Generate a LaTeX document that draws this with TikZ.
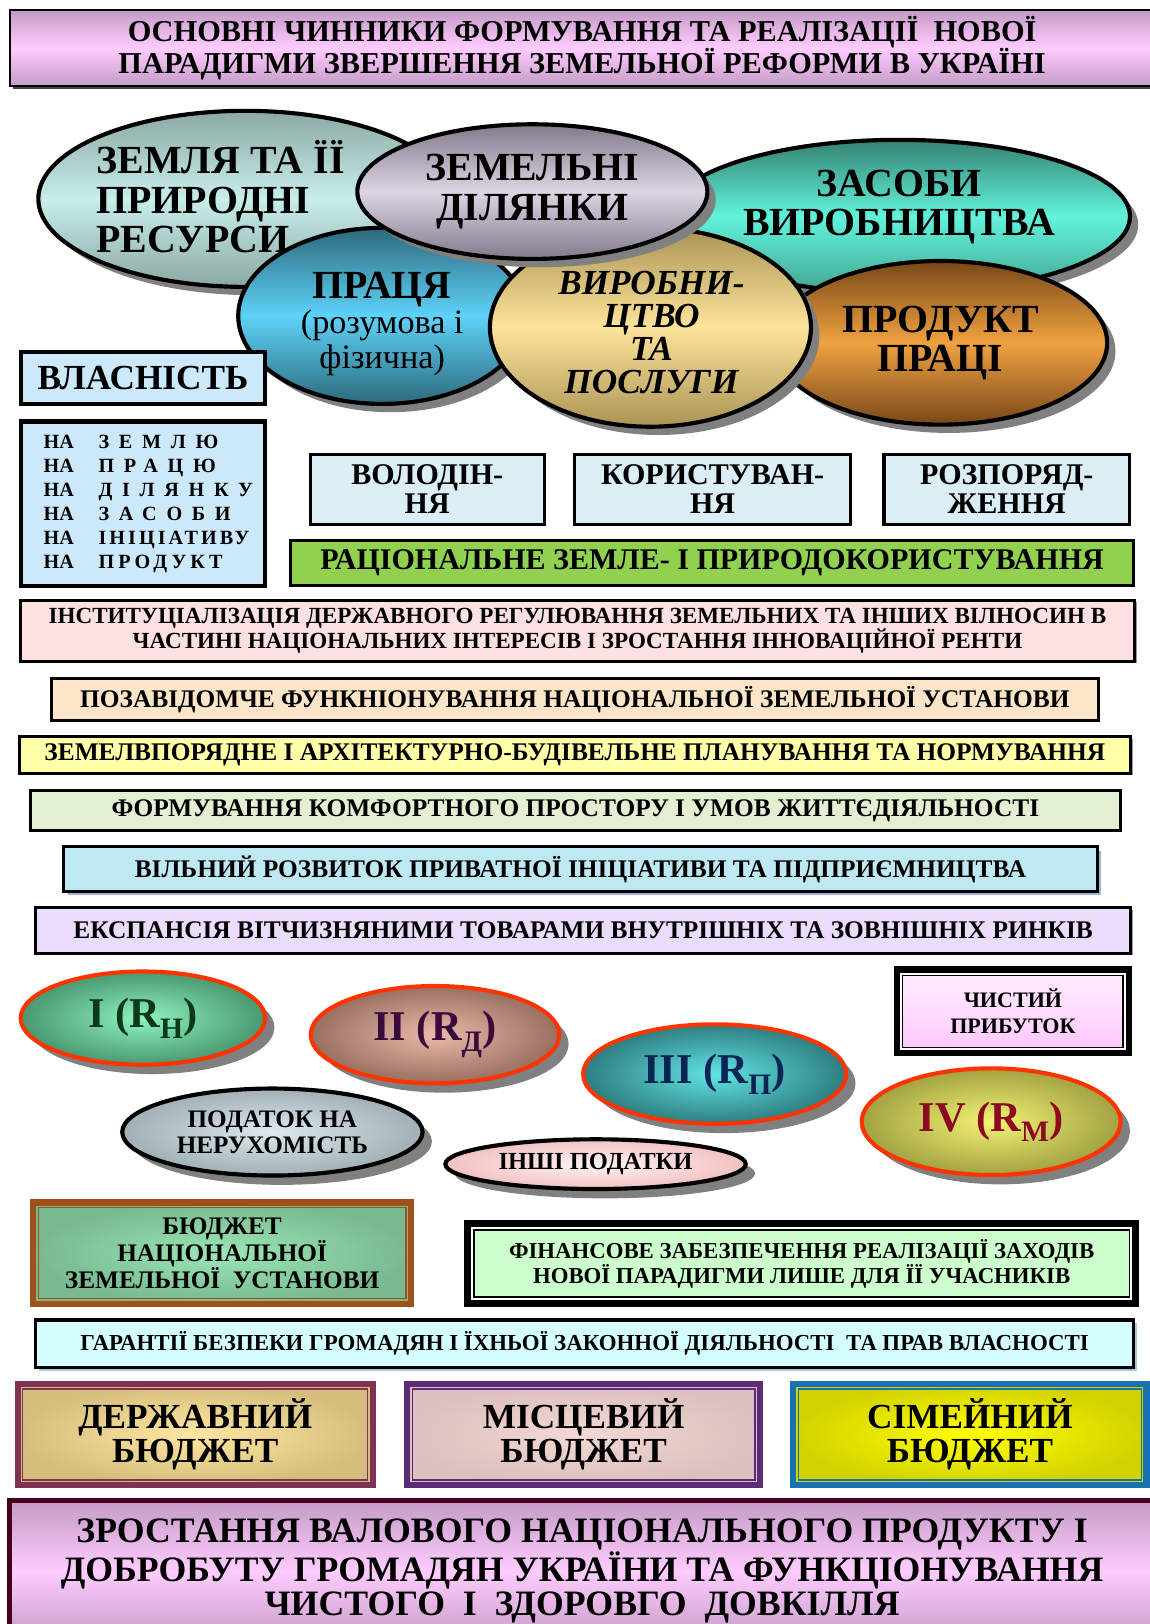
\documentclass[tikz,border=0pt]{standalone}
\usepackage{fontspec}
\setmainfont{Liberation Serif}
\usepackage{tikz}
\usetikzlibrary{shapes.geometric,shadows,positioning}

\definecolor{titlemauve}{HTML}{C49BC6}
\definecolor{titlepink}{HTML}{FFCCFF}
\definecolor{zemdark}{HTML}{8BA8A4}
\definecolor{zemlight}{HTML}{C8EEEA}
\definecolor{dildark}{HTML}{827A8C}
\definecolor{dillight}{HTML}{DDD5E3}
\definecolor{zasdark}{HTML}{358272}
\definecolor{zaslight}{HTML}{62F3DB}
\definecolor{prdark}{HTML}{2D6A7C}
\definecolor{prlight}{HTML}{5ED2F8}
\definecolor{vydark}{HTML}{AA9454}
\definecolor{vylight}{HTML}{FDE49B}
\definecolor{pddark}{HTML}{784818}
\definecolor{pdlight}{HTML}{F0A240}
\definecolor{vlasblue}{HTML}{CCE9FB}
\definecolor{pravblue}{HTML}{DBEEF4}
\definecolor{ratsgreen}{HTML}{92D050}
\definecolor{instpink}{HTML}{FDE0E0}
\definecolor{pozpeach}{HTML}{FBE5C9}
\definecolor{zemyellow}{HTML}{FFFFA8}
\definecolor{formgreen}{HTML}{E3EFD3}
\definecolor{vilblue}{HTML}{BFE9F2}
\definecolor{vilshadow}{HTML}{9DB5D5}
\definecolor{ekslilac}{HTML}{EADDFB}
\definecolor{rentred}{HTML}{FF3300}
\definecolor{r1in}{HTML}{8EF2C2}
\definecolor{r1out}{HTML}{4A9870}
\definecolor{r1txt}{HTML}{0B3A14}
\definecolor{r2in}{HTML}{EAB9A9}
\definecolor{r2out}{HTML}{98705F}
\definecolor{r2txt}{HTML}{3A0A3C}
\definecolor{r3in}{HTML}{62E4E4}
\definecolor{r3out}{HTML}{2E7E80}
\definecolor{r3txt}{HTML}{0A2456}
\definecolor{r4in}{HTML}{F3F374}
\definecolor{r4out}{HTML}{A2A242}
\definecolor{r4txt}{HTML}{8C0A20}
\definecolor{chystin}{HTML}{FFEFFF}
\definecolor{chystout}{HTML}{FFC6FF}
\definecolor{podin}{HTML}{DDE9EF}
\definecolor{podout}{HTML}{A0B0B4}
\definecolor{inshin}{HTML}{FFF2F2}
\definecolor{inshout}{HTML}{F2C2C2}
\definecolor{nzubrown}{HTML}{A0501A}
\definecolor{nzuin}{HTML}{9AE6B6}
\definecolor{nzuout}{HTML}{79B98F}
\definecolor{finsgreen}{HTML}{CCFFCC}
\definecolor{garcyan}{HTML}{D4FEFE}
\definecolor{garshadow}{HTML}{A6C6E6}
\definecolor{derzhframe}{HTML}{7E3152}
\definecolor{derzhin}{HTML}{FFE7A2}
\definecolor{derzhout}{HTML}{D5BE7C}
\definecolor{mistframe}{HTML}{5C2B76}
\definecolor{mistin}{HTML}{F3D9D3}
\definecolor{mistout}{HTML}{DCBFBF}
\definecolor{simframe}{HTML}{1672B0}
\definecolor{simin}{HTML}{FFFF00}
\definecolor{simout}{HTML}{D2D200}
\definecolor{pidframe}{HTML}{44001E}

\begin{document}
\begin{tikzpicture}[
    x=1pt, y=-1pt,
    inner sep=0pt,
    bigoval/.style={
        ellipse,
        draw=black,
        line width=4pt,
        align=center,
        font=\fontsize{38.5}{38}\selectfont\bfseries,
        drop shadow={shadow xshift=8pt, shadow yshift=-8pt, fill=black!50, opacity=1}
    },
    ovaltext/.style={
        align=center,
        font=\fontsize{38.5}{38}\selectfont\bfseries
    },
    rentoval/.style={
        ellipse,
        draw=rentred,
        line width=4pt,
        font=\fontsize{41}{41}\selectfont\bfseries,
        drop shadow={shadow xshift=9pt, shadow yshift=-9pt, fill=black!50, opacity=1}
    },
    taxoval/.style={
        ellipse,
        draw=black,
        line width=4pt,
        align=center,
        font=\fontsize{24.3}{25}\selectfont\bfseries,
        drop shadow={shadow xshift=9pt, shadow yshift=-9pt, fill=black!50, opacity=1}
    },
    plainbox/.style={
        rectangle,
        draw=black,
        line width=3pt,
        align=center
    },
    barbox/.style={
        plainbox,
        font=\fontsize{24.5}{24}\selectfont\bfseries,
        drop shadow={shadow xshift=2pt, shadow yshift=-2pt, fill=black!40, opacity=1}
    },
    rightbox/.style={
        plainbox,
        fill=pravblue,
        minimum height=68,
        font=\fontsize{29}{28}\selectfont\bfseries
    },
    budgetbox/.style={
        rectangle,
        line width=6pt,
        align=center,
        minimum width=341,
        minimum height=98,
        font=\fontsize{34}{33}\selectfont\bfseries
    },
    frameline/.style={line width=1.3pt}
  ]
  \useasboundingbox (0,0) rectangle (1110,1568);

  % heading
  \node[plainbox, line width=2pt, minimum width=1105, minimum height=73,
        top color=titlemauve, bottom color=titlemauve, middle color=titlepink,
        font=\fontsize{29.3}{28}\selectfont\bfseries,
        drop shadow={shadow xshift=3pt, shadow yshift=-3pt, fill=black!75, opacity=1}]
    (title) at (562,46.5)
    {ОСНОВНІ ЧИННИКИ ФОРМУВАННЯ ТА РЕАЛІЗАЦІЇ~ НОВОЇ\\ПАРАДИГМИ ЗВЕРШЕННЯ ЗЕМЕЛЬНОЇ РЕФОРМИ В УКРАЇНІ};

  % factor ellipses, back to front
  \node[bigoval, minimum width=400, minimum height=170,
        top color=zemdark, bottom color=zemdark, middle color=zemlight] (zemlia) at (237,192) {};
  \node[ovaltext, anchor=west, align=left] (zemliatxt) at (93,190) {ЗЕМЛЯ ТА ЇЇ\\ПРИРОДНІ\\РЕСУРСИ};

  \node[bigoval, minimum width=446, minimum height=148,
        top color=zasdark, bottom color=zasdark!70!zaslight, middle color=zaslight] (zasoby) at (868,209) {};
  \node[ovaltext] (zasobytxt) at (868,200) {ЗАСОБИ\\ВИРОБНИЦТВА};

  \node[bigoval, minimum width=322, minimum height=158,
        top color=pddark, bottom color=pddark, middle color=pdlight] (produkt) at (908,331) {ПРОДУКТ\\ПРАЦІ};

  \node[bigoval, minimum width=278, minimum height=170,
        top color=prdark, bottom color=prdark, middle color=prlight] (pratsia) at (369,305) {};
  \node[align=center, font=\fontsize{33}{34}\selectfont] (pratsiatxt) at (369,313)
    {{\fontsize{38.5}{34}\selectfont\bfseries ПРАЦЯ}\\(розумова і\\фізична)};

  \node[bigoval, minimum width=310, minimum height=192,
        top color=vydark, bottom color=vydark, middle color=vylight] (vyrobn) at (628,316) {};
  \node[ovaltext, font=\fontsize{34}{32}\selectfont\bfseries\itshape] (vyrobntxt) at (629,321)
    {ВИРОБНИ-\\ЦТВО\\ТА\\ПОСЛУГИ};

  \node[bigoval, minimum width=338, minimum height=130,
        top color=dildark, bottom color=dildark, middle color=dillight] (dilianky) at (514,185) {ЗЕМЕЛЬНІ\\ДІЛЯНКИ};

  % ownership
  \node[plainbox, line width=4pt, fill=vlasblue, minimum width=236, minimum height=50,
        font=\fontsize{34}{34}\selectfont\bfseries] (vlasnist) at (138,365) {ВЛАСНІСТЬ};
  \node[plainbox, line width=4pt, fill=vlasblue, minimum width=236, minimum height=159] (pravo) at (138,486.5) {};
  \node[anchor=west, align=left, font=\fontsize{19.5}{23.3}\selectfont\bfseries] (pravotxt) at (42,486.5)
    {\makebox[53pt][l]{НА}{\addfontfeature{LetterSpace=48}ЗЕМЛЮ}\\
     \makebox[53pt][l]{НА}{\addfontfeature{LetterSpace=48}ПРАЦЮ}\\
     \makebox[53pt][l]{НА}{\addfontfeature{LetterSpace=48}ДІЛЯНКУ}\\
     \makebox[53pt][l]{НА}{\addfontfeature{LetterSpace=48}ЗАСОБИ}\\
     \makebox[53pt][l]{НА}{\addfontfeature{LetterSpace=15}ІНІЦІАТИВУ}\\
     \makebox[53pt][l]{НА}{\addfontfeature{LetterSpace=20}ПРОДУКТ}};

  \node[rightbox, minimum width=226] (volod) at (412.5,472.5) {ВОЛОДІН-\\НЯ};
  \node[rightbox, minimum width=267] (korist) at (688,472.5) {КОРИСТУВАН-\\НЯ};
  \node[rightbox, minimum width=237] (rozpor) at (972,472.5) {РОЗПОРЯД-\\ЖЕННЯ};

  \node[plainbox, fill=ratsgreen, minimum width=814, minimum height=44,
        font=\fontsize{29}{28}\selectfont\bfseries] (ratsio) at (687.5,543.5)
    {РАЦІОНАЛЬНЕ ЗЕМЛЕ- І ПРИРОДОКОРИСТУВАННЯ};

  % strips
  \node[barbox, fill=instpink, minimum width=1076, minimum height=59,
        font=\fontsize{22.3}{20.5}\selectfont\bfseries] (instyt) at (557.5,609)
    {ІНСТИТУЦІАЛІЗАЦІЯ ДЕРЖАВНОГО РЕГУЛЮВАННЯ ЗЕМЕЛЬНИХ ТА ІНШИХ ВІЛНОСИН В\\ЧАСТИНІ НАЦІОНАЛЬНИХ ІНТЕРЕСІВ І ЗРОСТАННЯ ІННОВАЦІЙНОЇ РЕНТИ};
  \node[barbox, fill=pozpeach, minimum width=1011, minimum height=40] (pozav) at (555,675.5)
    {ПОЗАВІДОМЧЕ ФУНКНІОНУВАННЯ НАЦІОНАЛЬНОЇ ЗЕМЕЛЬНОЇ УСТАНОВИ};
  \node[barbox, fill=zemyellow, minimum width=1073, minimum height=35] (zemvp) at (555,729)
    {ЗЕМЕЛВПОРЯДНЕ І АРХІТЕКТУРНО-БУДІВЕЛЬНЕ ПЛАНУВАННЯ ТА НОРМУВАННЯ};
  \node[barbox, fill=formgreen, minimum width=1052, minimum height=38] (form) at (555.5,782.5)
    {ФОРМУВАННЯ КОМФОРТНОГО ПРОСТОРУ І УМОВ ЖИТТЄДІЯЛЬНОСТІ};
  \node[plainbox, fill=vilblue, minimum width=998, minimum height=43,
        font=\fontsize{24.5}{24}\selectfont\bfseries,
        drop shadow={shadow xshift=4pt, shadow yshift=-4pt, fill=vilshadow, opacity=1}] (vilny) at (560.5,839)
    {ВІЛЬНИЙ РОЗВИТОК ПРИВАТНОЇ ІНІЦІАТИВИ ТА ПІДПРИЄМНИЦТВА};
  \node[barbox, fill=ekslilac, minimum width=1057, minimum height=44] (ekspan) at (563,898.5)
    {ЕКСПАНСІЯ ВІТЧИЗНЯНИМИ ТОВАРАМИ ВНУТРІШНІХ ТА ЗОВНІШНІХ РИНКІВ};

  % rents
  \node[rentoval, minimum width=236, minimum height=90, inner color=r1in, outer color=r1out, text=r1txt]
    (renta1) at (138,983) {I (R\textsubscript{Н})};
  \node[rentoval, minimum width=240, minimum height=94, inner color=r2in, outer color=r2out, text=r2txt]
    (renta2) at (420,999) {II (R\textsubscript{Д})};
  \node[rentoval, minimum width=254, minimum height=96, inner color=r3in, outer color=r3out, text=r3txt]
    (renta3) at (690,1037) {III (R\textsubscript{П})};
  \node[rentoval, minimum width=250, minimum height=103, inner color=r4in, outer color=r4out, text=r4txt]
    (renta4) at (957,1083) {IV (R\textsubscript{М})};

  \node[plainbox, line width=6pt, minimum width=224, minimum height=81,
        top color=chystin, bottom color=chystout,
        font=\fontsize{21.3}{25}\selectfont\bfseries] (chysty) at (978,976.5) {ЧИСТИЙ\\ПРИБУТОК};
  \draw[white, line width=2pt] ([shift={(7,7)}]chysty.north west) rectangle ([shift={(-7,-7)}]chysty.south east);
  \draw[frameline] ([shift={(8.6,8.6)}]chysty.north west) rectangle ([shift={(-8.6,-8.6)}]chysty.south east);

  % taxes
  \node[taxoval, minimum width=290, minimum height=84, inner color=podin, outer color=podout]
    (podatok) at (263,1093) {ПОДАТОК НА\\НЕРУХОМІСТЬ};
  \node[taxoval, minimum width=290, minimum height=48, inner color=inshin, outer color=inshout,
        font=\fontsize{23.7}{24}\selectfont\bfseries] (inshi) at (575,1124) {ІНШІ ПОДАТКИ};

  % funds
  \node[plainbox, draw=nzubrown, line width=6pt, minimum width=365, minimum height=98,
        inner color=nzuin, outer color=nzuout,
        font=\fontsize{24.4}{22}\selectfont\bfseries] (nzu) at (214.5,1210)
    {БЮДЖЕТ\\НАЦІОНАЛЬНОЇ\\ЗЕМЕЛЬНОЇ~ УСТАНОВИ};
  \draw[nzubrown, frameline] ([shift={(8,8)}]nzu.north west) rectangle ([shift={(-8,-8)}]nzu.south east);

  \node[plainbox, line width=7pt, minimum width=645, minimum height=77, fill=finsgreen,
        font=\fontsize{22}{22}\selectfont\bfseries] (finans) at (774,1220)
    {ФІНАНСОВЕ ЗАБЕЗПЕЧЕННЯ РЕАЛІЗАЦІЇ ЗАХОДІВ\\НОВОЇ ПАРАДИГМИ ЛИШЕ ДЛЯ ЇЇ УЧАСНИКІВ};
  \draw[white, line width=2pt] ([shift={(8,8)}]finans.north west) rectangle ([shift={(-8,-8)}]finans.south east);
  \draw[frameline] ([shift={(9.6,9.6)}]finans.north west) rectangle ([shift={(-9.6,-9.6)}]finans.south east);

  \node[plainbox, fill=garcyan, minimum width=1060, minimum height=46,
        font=\fontsize{22.1}{22}\selectfont\bfseries,
        drop shadow={shadow xshift=3pt, shadow yshift=-3pt, fill=garshadow, opacity=1}] (garant) at (564.5,1297.5)
    {ГАРАНТІЇ БЕЗПЕКИ ГРОМАДЯН І ЇХНЬОЇ ЗАКОННОЇ ДІЯЛЬНОСТІ~ ТА ПРАВ ВЛАСНОСТІ};

  % budgets
  \node[budgetbox, draw=derzhframe, inner color=derzhin, outer color=derzhout, minimum width=343]
    (derzh) at (188.5,1385) {ДЕРЖАВНИЙ\\БЮДЖЕТ};
  \node[budgetbox, draw=mistframe, inner color=mistin, outer color=mistout, right=27pt of derzh]
    (mists) {МІСЦЕВИЙ\\БЮДЖЕТ};
  \node[budgetbox, draw=simframe, inner color=simin, outer color=simout, right=26pt of mists]
    (simei) {СІМЕЙНИЙ\\БЮДЖЕТ};
  \draw[derzhframe, frameline] ([shift={(8,8)}]derzh.north west) rectangle ([shift={(-8,-8)}]derzh.south east);
  \draw[mistframe, frameline] ([shift={(8,8)}]mists.north west) rectangle ([shift={(-8,-8)}]mists.south east);
  \draw[simframe, frameline] ([shift={(8,8)}]simei.north west) rectangle ([shift={(-8,-8)}]simei.south east);

  % outcome
  \node[plainbox, draw=pidframe, line width=5pt, minimum width=1105, minimum height=136,
        top color=titlemauve, bottom color=titlemauve, middle color=titlepink,
        font=\fontsize{34.5}{33}\selectfont\bfseries] (pidsum) at (562,1517)
    {ЗРОСТАННЯ ВАЛОВОГО НАЦІОНАЛЬНОГО ПРОДУКТУ І\\ДОБРОБУТУ ГРОМАДЯН УКРАЇНИ ТА ФУНКЦІОНУВАННЯ\\ЧИСТОГО~ І~ ЗДОРОВГО~ ДОВКІЛЛЯ};

\end{tikzpicture}
\end{document}
